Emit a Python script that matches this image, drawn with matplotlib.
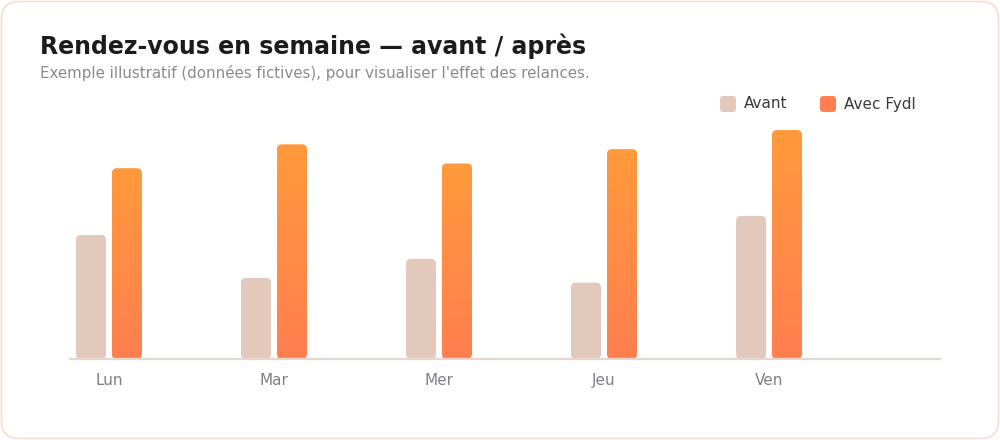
import numpy as np
import matplotlib.pyplot as plt
from matplotlib.patches import FancyBboxPatch
from matplotlib.colors import LinearSegmentedColormap

jours = ['Lun', 'Mar', 'Mer', 'Jeu', 'Ven']
avant = [13, 8.5, 10.5, 8, 15]
avec_fydl = [20, 22.5, 20.5, 22, 24]

c_avant = '#E3C9BB'
c_top = '#FF9A3C'
c_bot = '#FF7F50'
grad = LinearSegmentedColormap.from_list('fydl', [c_bot, c_top])

W, H = 1000, 440
fig = plt.figure(figsize=(W / 100, H / 100), dpi=100)
fig.patch.set_facecolor('white')
inch = fig.dpi_scale_trans


def px(x, y):
    # pixel coords (top-left origin) -> inches for dpi_scale_trans
    return x / 100, (H - y) / 100


# card
card = FancyBboxPatch(px(1.5, 438.5), 997 / 100, 437 / 100,
                      boxstyle='round,pad=0,rounding_size=0.18',
                      transform=inch, facecolor='white',
                      edgecolor='#FCDDD1', linewidth=1.3, zorder=-5)
fig.add_artist(card)

fig.text(40 / W, 1 - 54 / H, 'Rendez-vous en semaine — avant / après',
         fontsize=17, fontweight='bold', color='#1c1c1c', va='baseline')
fig.text(40 / W, 1 - 78 / H,
         "Exemple illustratif (données fictives), pour visualiser l'effet des relances.",
         fontsize=10.8, color='#8a8a8a', va='baseline')

# legend
for x0, col, lab in [(720, c_avant, 'Avant'), (820, '#FF7F50', 'Avec Fydl')]:
    sw = FancyBboxPatch(px(x0, 112), 0.16, 0.16,
                        boxstyle='round,pad=0,rounding_size=0.035',
                        transform=inch, facecolor=col, edgecolor='none')
    fig.add_artist(sw)
    fig.text((x0 + 24) / W, 1 - 104 / H, lab, fontsize=11,
             color='#3a3a3a', va='center')

# axes
ax = fig.add_axes([70 / W, (H - 359) / H, 870 / W, 238.5 / H])
ax.set_facecolor('none')
xmin, xmax = -0.236, 5.036
ymax = 25

bw = 0.182
off = 0.109
aspect = (ymax / 238.5) / ((xmax - xmin) / 870)
rad = 5 * (xmax - xmin) / 870

x = np.arange(len(jours))
for i in x:
    # avant
    p = FancyBboxPatch((i - off - bw / 2, 0), bw, avant[i],
                       boxstyle=f'round,pad=0,rounding_size={rad}',
                       mutation_aspect=aspect, facecolor=c_avant,
                       edgecolor='none', zorder=2)
    ax.add_patch(p)
    # avec fydl (gradient)
    p2 = FancyBboxPatch((i + off - bw / 2, 0), bw, avec_fydl[i],
                        boxstyle=f'round,pad=0,rounding_size={rad}',
                        mutation_aspect=aspect, facecolor='none',
                        edgecolor='none', zorder=2)
    ax.add_patch(p2)
    im = ax.imshow(np.linspace(0, 1, 256).reshape(-1, 1), cmap=grad,
                   origin='lower', aspect='auto', zorder=2,
                   extent=[i + off - bw / 2, i + off + bw / 2, 0, avec_fydl[i]])
    im.set_clip_path(p2)

ax.set_xlim(xmin, xmax)
ax.set_ylim(0, ymax)
ax.set_xticks(x)
ax.set_xticklabels(jours, fontsize=11, color='#7d8087')
ax.tick_params(axis='x', length=0, pad=10)
ax.set_yticks([])
for s in ['top', 'right', 'left']:
    ax.spines[s].set_visible(False)
ax.spines['bottom'].set_color('#E6D6CC')
ax.spines['bottom'].set_linewidth(1.6)
ax.spines['bottom'].set_zorder(3)

fig.savefig('out.png', dpi=100)
